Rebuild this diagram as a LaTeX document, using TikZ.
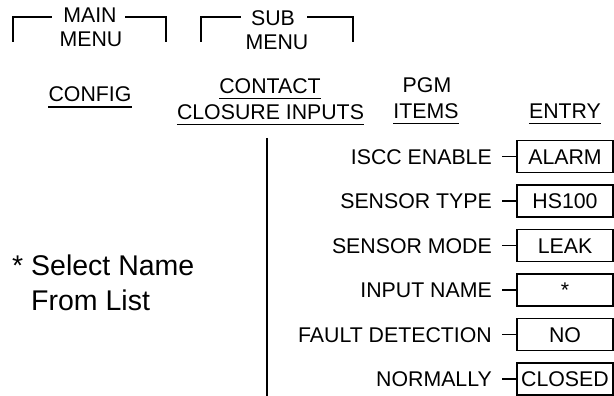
\documentclass[tikz,border=0pt]{standalone}
\usepackage{fontspec}
\setmainfont{Liberation Sans}
\begin{document}
\begin{tikzpicture}[x=1pt,y=-1pt,
  lbl/.style={inner sep=0pt,font=\fontsize{21.3}{24}\selectfont},
  big/.style={inner sep=0pt,font=\fontsize{28.5}{34}\selectfont},
  ln/.style={line width=1.2pt},
  ul/.style={line width=1.2pt},
  entrybox/.style={draw,line width=1.2pt}]
\useasboundingbox (0,0) rectangle (614,396);
% Main menu bracket
\node[lbl,anchor=base] (main1) at (90,23) {MAIN};
\node[lbl,anchor=base] (main2) at (91,47) {MENU};
\coordinate (mA) at (13,42); \coordinate (mB) at (13,17); \coordinate (mC) at (52,17);
\coordinate (mD) at (125,17); \coordinate (mE) at (166,17); \coordinate (mF) at (166,42);
\draw[ln] (mA) -- (mB) -- (mC);
\draw[ln] (mD) -- (mE) -- (mF);
% Sub menu bracket
\node[lbl,anchor=base] (sub1) at (273,26) {SUB};
\node[lbl,anchor=base] (sub2) at (277,50) {MENU};
\coordinate (sA) at (201,42); \coordinate (sB) at (201,17); \coordinate (sC) at (241,17);
\coordinate (sD) at (307,17); \coordinate (sE) at (353,17); \coordinate (sF) at (353,42);
\draw[ln] (sA) -- (sB) -- (sC);
\draw[ln] (sD) -- (sE) -- (sF);
% Column headings
\node[lbl,anchor=base] (config) at (90,102) {CONFIG};
\draw[ul] ([yshift=-5pt]config.base west) -- ([yshift=-5pt]config.base east);
\node[lbl,anchor=base] (contact) at (270,94) {CONTACT};
\draw[ul] ([yshift=-4.5pt]contact.base west) -- ([yshift=-4.5pt]contact.base east);
\node[lbl,anchor=base] (closure) at (270.5,120) {CLOSURE INPUTS};
\draw[ul] ([yshift=-4.5pt]closure.base west) -- ([yshift=-4.5pt]closure.base east);
\node[lbl,anchor=base] (pgm) at (427,93) {PGM};
\node[lbl,anchor=base] (items) at (426,119) {ITEMS};
\draw[ul] ([yshift=-4.5pt]items.base west) -- ([yshift=-4.5pt]items.base east);
\node[lbl,anchor=base] (entry) at (565,119) {ENTRY};
\draw[ul] ([yshift=-4.5pt]entry.base west) -- ([yshift=-4.5pt]entry.base east);
% vertical line
\coordinate (vt) at (267,138); \coordinate (vb) at (267,396);
\draw[ln] (vt) -- (vb);
% rows
\foreach \nm/\lab/\val/\y in {r1/ISCC ENABLE/ALARM/156.5, r2/SENSOR TYPE/HS100/201, r3/SENSOR MODE/LEAK/245.5, r4/INPUT NAME/*/290, r5/FAULT DETECTION/NO/334.5, r6/NORMALLY/CLOSED/379}{
  \node[lbl,anchor=base east] (\nm l) at (492,\y+7.6) {\lab};
  \node[entrybox,minimum width=96pt,minimum height=32pt,inner sep=0pt] (\nm b) at (565,\y) {};
  \node[lbl,anchor=base] (\nm v) at (565,\y+7.6) {\val};
  \coordinate (\nm t) at (502,\y);
  \draw[ln] (\nm t) -- (\nm b.west);
}
% note
\node[big,anchor=base west] (note1) at (12,275) {* Select Name};
\node[big,anchor=base west] (note2) at (31,310) {From List};
\end{tikzpicture}
\end{document}
